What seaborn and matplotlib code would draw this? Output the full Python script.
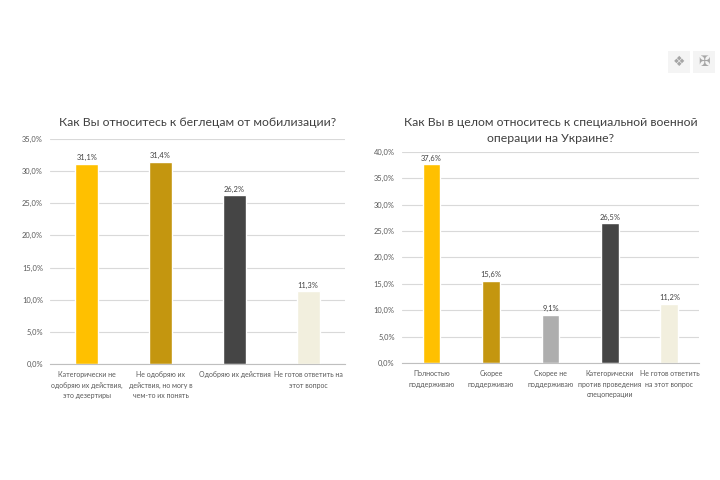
import matplotlib
matplotlib.use("Agg")
import matplotlib.pyplot as plt
import matplotlib.patches as mpatches
from matplotlib.ticker import FuncFormatter, MultipleLocator
import seaborn as sns
import pandas as pd

left_title = "Как Вы относитесь к беглецам от мобилизации?"
left_categories = [
    "Категорически не\nодобряю их действия,\nэто дезертиры",
    "Не одобряю их\nдействия, но могу в\nчем-то их понять",
    "Одобряю их действия",
    "Не готов ответить на\nэтот вопрос",
]
left_values = [31.1, 31.4, 26.2, 11.3]
left_colors = ["#FFC000", "#C4960F", "#454545", "#F2EFDE"]

right_title = "Как Вы в целом относитесь к специальной военной\nоперации на Украине?"
right_categories = [
    "Полностью\nподдерживаю",
    "Скорее\nподдерживаю",
    "Скорее не\nподдерживаю",
    "Категорически\nпротив проведения\nспецоперации",
    "Не готов ответить\nна этот вопрос",
]
right_values = [37.6, 15.6, 9.1, 26.5, 11.2]
right_colors = ["#FFC000", "#C4960F", "#AEAEAE", "#454545", "#F2EFDE"]

sns.set_theme(style="white")
plt.rcParams["font.family"] = ["Lato", "DejaVu Sans"]

fig = plt.figure(figsize=(7.2, 4.8), dpi=100)
fig.patch.set_facecolor("white")

def fmt(v, _):
    return f"{v:.1f}%".replace(".", ",")

def draw(ax, cats, vals, cols, ymax, width, title, pad):
    df = pd.DataFrame({"cat": cats, "val": vals})
    sns.barplot(data=df, x="cat", y="val", hue="cat", palette=cols,
                legend=False, width=width, ax=ax, saturation=1)
    ax.set_ylim(0, ymax)
    ax.set_xlim(-0.5, len(cats) - 0.5)
    ax.yaxis.set_major_locator(MultipleLocator(5))
    ax.yaxis.set_major_formatter(FuncFormatter(fmt))
    ax.grid(axis="y", color="#D9D9D9", linewidth=0.8)
    ax.set_axisbelow(True)
    for s in ["left", "right", "top"]:
        ax.spines[s].set_visible(False)
    ax.spines["bottom"].set_color("#BFBFBF")
    ax.spines["bottom"].set_linewidth(0.8)
    ax.tick_params(axis="y", length=0, labelsize=5.4, colors="#595959", pad=5)
    ax.tick_params(axis="x", length=0, labelsize=5.0, colors="#595959", pad=5)
    ax.set_xlabel("")
    ax.set_ylabel("")
    for lbl in ax.get_xticklabels():
        lbl.set_linespacing(1.6)
    for i, v in enumerate(vals):
        ax.text(i, v + ymax * 0.012, fmt(v, None), ha="center", va="bottom",
                fontsize=5.4, color="#404040")
    ax.set_title(title, fontsize=8.8, color="#404040", pad=pad, linespacing=1.55)

ax1 = fig.add_axes([0.0694, 0.2417, 0.41, 0.469])
draw(ax1, left_categories, left_values, left_colors, 35, 0.31, left_title, 9)

ax2 = fig.add_axes([0.558, 0.2437, 0.413, 0.44])
draw(ax2, right_categories, right_values, right_colors, 40, 0.30, right_title, 7)

# small logos at top right
for x0, sym in [(0.928, "\u2756"), (0.963, "\u2720")]:
    fig.patches.append(mpatches.Rectangle((x0, 0.848), 0.03, 0.045,
                                          transform=fig.transFigure,
                                          facecolor="#F4F4F4", edgecolor="none"))
    fig.text(x0 + 0.015, 0.870, sym, ha="center", va="center",
             fontsize=10, color="#A6A6A6", family=["DejaVu Sans"])

fig.savefig("out.png", dpi=100, facecolor="white")
